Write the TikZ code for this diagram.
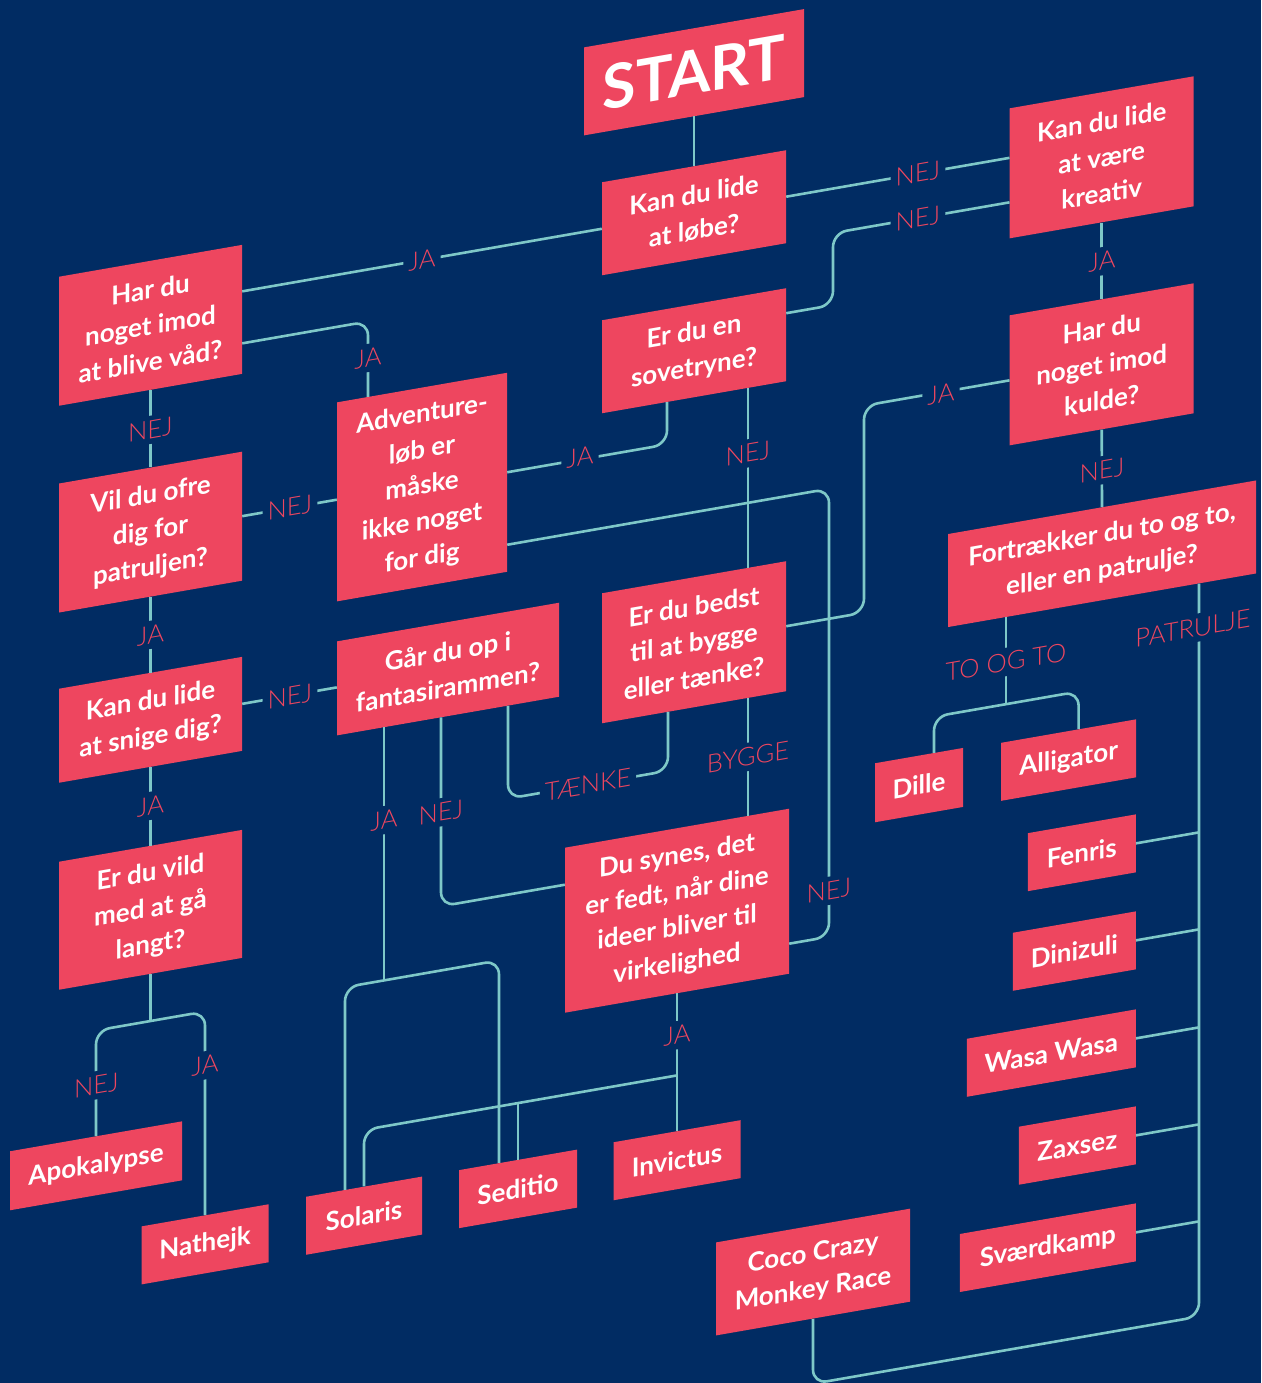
\documentclass[tikz,border=0pt]{standalone}
\usepackage{fontspec}
\setmainfont{Lato}
\newfontfamily\lightfont{Lato Light}
\usetikzlibrary{calc}

\definecolor{navy}{RGB}{1,44,99}
\definecolor{boxred}{RGB}{238,70,95}
\definecolor{wire}{RGB}{126,200,200}

\tikzset{
  q/.style 2 args={fill=boxred, text=white, font=\bfseries\fontsize{26}{36}\selectfont,
    align=center, inner sep=0pt, transform shape, minimum width=#1pt, minimum height=#2pt},
  lab/.style={fill=navy, text=boxred, font=\lightfont\fontsize{25.5}{25.5}\selectfont,
    inner sep=5pt, transform shape},
  link/.style={draw=wire, line width=2.6pt, rounded corners=14pt},
}

\begin{document}
\begin{tikzpicture}[x=1pt, y=-1pt]
  \path[use as bounding box] (0,0) rectangle (1261,1383);
  \fill[navy] (0,0) rectangle (1261,1383);

  \begin{scope}[yslant=0.174]
  % questions
  \node[q={220}{88}, font=\bfseries\fontsize{61}{61}\selectfont] (start) at (694,193) {START};
  \node[q={184}{93}] (lobe) at (694,333.5) {Kan du lide\\at løbe?};
  \node[q={184}{93}] (sove) at (694,471.5) {Er du en\\sovetryne?};
  \node[q={184}{130}] (bedst) at (694,763) {Er du bedst\\til at bygge\\eller tænke?};
  \node[q={224}{165}] (synes) at (677,1028.5) {Du synes, det\\er fedt, når dine\\ideer bliver til\\virkelighed};
  \node[q={183}{129}] (vad) at (150.5,351.5) {Har du\\noget imod\\at blive våd?};
  \node[q={183}{129}] (ofre) at (150.5,558.3) {Vil du ofre\\dig for\\patruljen?};
  \node[q={183}{94}] (snige) at (150.5,746) {Kan du lide\\at snige dig?};
  \node[q={183}{128}] (vild) at (150.5,936) {Er du vild\\med at gå\\langt?};
  \node[q={170}{199}] (adv) at (422,560.5) {Adventure-\\løb er\\måske\\ikke noget\\for dig};
  \node[q={222}{94}] (gar) at (448,747) {Går du op i\\fantasirammen?};
  \node[q={184}{130}] (kreativ) at (1101.7,349) {Kan du lide\\at være\\kreativ};
  \node[q={184}{130}] (kulde) at (1101.7,556) {Har du\\noget imod\\kulde?};
  \node[q={308}{93}] (fort) at (1102,745.5) {Fortrækker du to og to,\\eller en patrulje?};

  % patruljer
  \node[q={172}{59}] (apok) at (96,1182.5) {Apokalypse};
  \node[q={127}{58}] (nath) at (205,1280) {Nathejk};
  \node[q={116}{58}] (sol) at (364,1279) {Solaris};
  \node[q={118}{58}] (sed) at (518,1279) {Seditio};
  \node[q={127}{58}] (inv) at (677,1278) {Invictus};
  \node[q={194}{93}] (coco) at (813,1413.5) {Coco Crazy\\Monkey Race};
  \node[q={88}{59}] (dille) at (919,945) {Dille};
  \node[q={135}{58}] (alli) at (1068.6,946) {Alligator};
  \node[q={108}{58}, anchor=east] (fen) at (1136,1041) {Fenris};
  \node[q={123}{58}, anchor=east] (din) at (1136,1138) {Dinizuli};
  \node[q={169}{58}, anchor=east] (wasa) at (1136,1236) {Wasa Wasa};
  \node[q={117}{58}, anchor=east] (zax) at (1136,1333) {Zaxsez};
  \node[q={176}{58}, anchor=east] (svaerd) at (1136,1430) {Sværdkamp};

  % connectors
  \draw[link] (start.south) -- (lobe.north);
  \draw[link] (lobe.west) -- (lobe.west -| vad.east);
  \draw[link] (lobe.east) -- (lobe.east -| kreativ.west);
  \draw[link] ([yshift=21.5pt]sove.east) -| (833,414) |- ([yshift=-29pt]kreativ.west);
  \draw[link] ([yshift=-34pt]vad.east) -| ([xshift=-54pt]adv.north);
  \draw[link] (vad.south) -- (ofre.north);
  \draw[link] (ofre.east) -- (ofre.east -| adv.west);
  \draw[link] (ofre.south) -- (snige.north);
  \draw[link] (snige.east) -- (snige.east -| gar.west);
  \draw[link] (snige.south) -- (vild.north);
  \draw[link] (vild.south) -- ++(0,47) coordinate (vildfork);
  \draw[link] (apok.north) |- (vildfork) -| (nath.north);
  \draw[link] ([xshift=-27pt]sove.south) |- (adv.east);
  \draw[link] ([xshift=54pt]sove.south) -- ([xshift=54pt]bedst.north);
  \draw[link] ([yshift=-52.5pt]synes.east) -| (829,800) |- ([yshift=-72.5pt]adv.east);
  \draw[link] (kreativ.south) -- (kulde.north);
  \draw[link] (kulde.west) -| (864,700) |- (bedst.east);
  \draw[link] (kulde.south) -- (fort.north);
  \draw[link] ([xshift=-26pt]bedst.south) |- (600,887) -| ([xshift=60pt]gar.south);
  \draw[link] ([xshift=54pt]bedst.south) -- ([xshift=54pt]bedst.south |- synes.north);
  \draw[link] ([xshift=-7pt]gar.south) |- ([yshift=45.5pt]synes.west);
  \draw[link] ([xshift=-64pt]gar.south) -- ++(0,253) coordinate (garfork);
  \draw[link] ([xshift=-19pt]sol.north) |- (garfork) -| ([xshift=-19pt]sed.north);
  \draw[link] (synes.south) -- ++(0,82) coordinate (synfork) -- (inv.north);
  \draw[link] (sol.north) |- (synfork);
  \draw[link] (sed.north) -- (sed.north |- synfork);
  \draw[link] ([xshift=-96pt]fort.south) -- ++(0,87) coordinate (fortfork);
  \draw[link] ([xshift=15pt]dille.north) |- (fortfork) -| ([xshift=10pt]alli.north);
  \draw[link] ([xshift=97pt]fort.south) coordinate (patr) |- ([yshift=-65pt]coco.south) -- (coco.south);
  \draw[link] (fen.east) -- (fen.east -| patr);
  \draw[link] (din.east) -- (din.east -| patr);
  \draw[link] (wasa.east) -- (wasa.east -| patr);
  \draw[link] (zax.east) -- (zax.east -| patr);
  \draw[link] (svaerd.east) -- (svaerd.east -| patr);

  % answers on the lines
  \node[lab] (jaLobe) at (422,333.5) {JA};
  \node[lab] (nejLobe) at (918,333) {NEJ};
  \node[lab] (nejSove) at (918,378) {NEJ};
  \node[lab] (jaVad) at (368,422) {JA};
  \node[lab] (nejVad) at (150.5,456) {NEJ};
  \node[lab] (nejOfre) at (290,558) {NEJ};
  \node[lab] (jaOfre) at (150.5,661) {JA};
  \node[lab] (nejSnige) at (290,747) {NEJ};
  \node[lab] (jaSnige) at (150.5,832) {JA};
  \node[lab] (nejVild) at (96.5,1102) {NEJ};
  \node[lab] (jaVild) at (205,1101) {JA};
  \node[lab] (jaSove) at (580,558) {JA};
  \node[lab] (nejSoveB) at (748,583.5) {NEJ};
  \node[lab] (jaKreativ) at (1102,453) {JA};
  \node[lab] (jaKulde) at (941,558) {JA};
  \node[lab] (nejKulde) at (1102,662) {NEJ};
  \node[lab] (taenke) at (588,887) {TÆNKE};
  \node[lab] (bygge) at (748,887) {BYGGE};
  \node[lab] (jaGar) at (384,887) {JA};
  \node[lab] (nejGar) at (441,889) {NEJ};
  \node[lab] (nejSynes) at (829,1035) {NEJ};
  \node[lab] (jaSynes) at (677,1153) {JA};
  \node[lab] (toogto) at (1006,837) {TO OG TO};
  \node[lab] (patrulje) at (1193,836) {PATRULJE};
  \end{scope}
\end{tikzpicture}
\end{document}
